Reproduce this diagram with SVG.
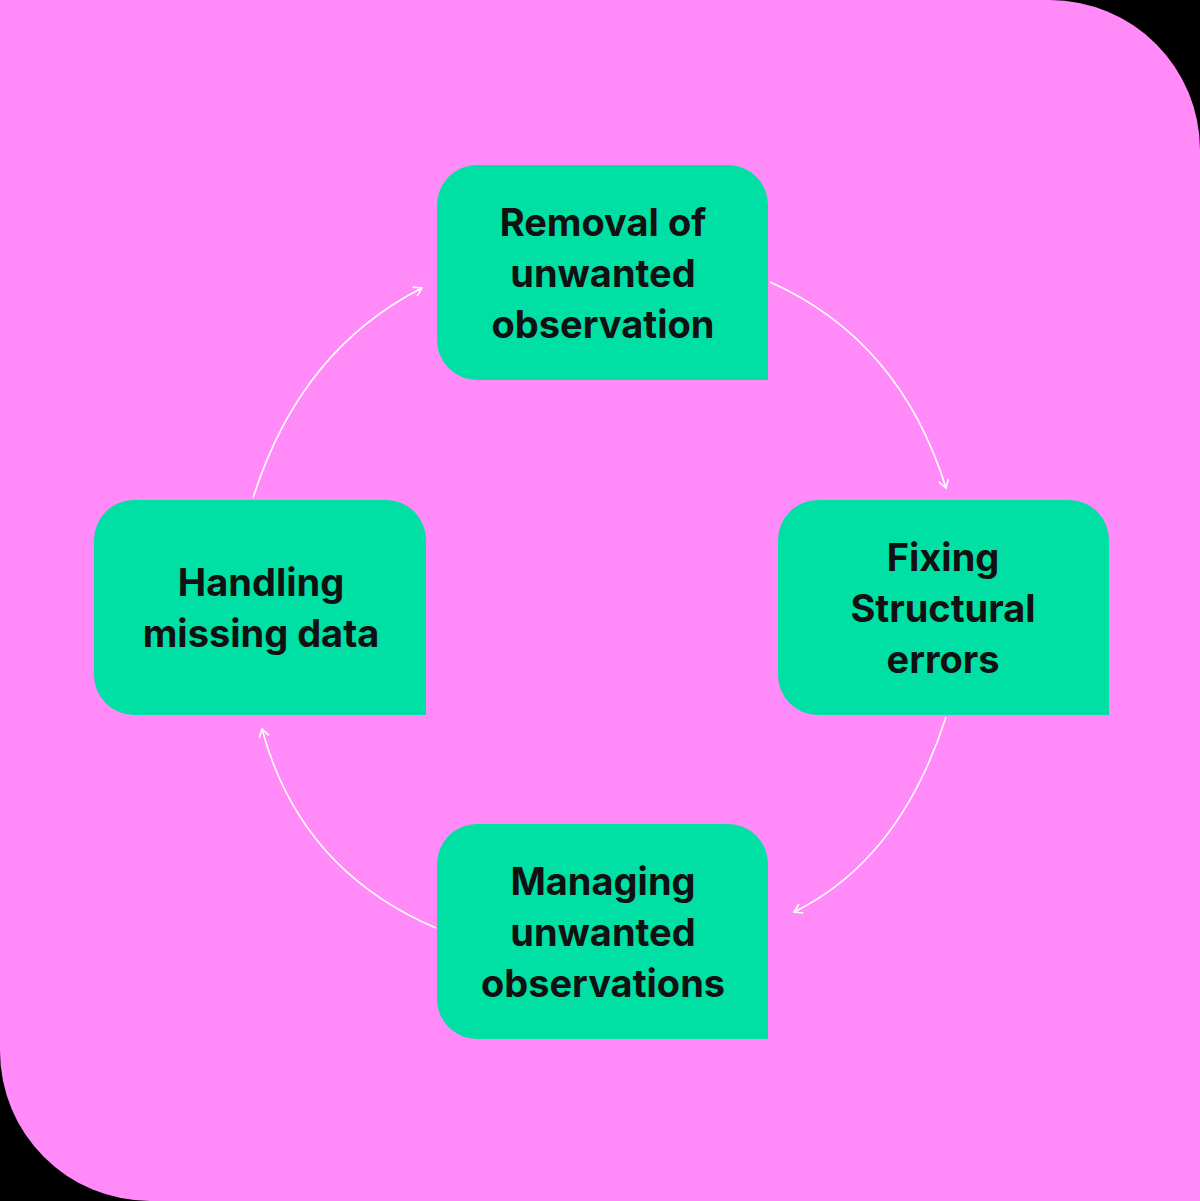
<svg xmlns="http://www.w3.org/2000/svg" width="1200" height="1201" viewBox="0 0 1200 1201">
<style>
.box{fill:#00E0A4}
.t{font-family:Inter,"Liberation Sans",sans-serif;font-weight:700;font-size:38px;fill:#111;text-anchor:middle}
.c{fill:none;stroke:#fff;stroke-width:1.6}
</style>
<defs><marker id="a" markerWidth="14" markerHeight="14" refX="10" refY="6" orient="auto" markerUnits="userSpaceOnUse"><path d="M2,1 L10,6 L2,11" fill="none" stroke="#fff" stroke-width="1.6"/></marker></defs>
<rect width="1200" height="1201" fill="#000"/>
<path d="M0,0 H1050 A150,150 0 0 1 1200,150 V1201 H150 A150,150 0 0 1 0,1051 Z" fill="#FF8AF8"/>
<g id="connectors">
<path class="c" d="M770,282 Q900,340 946,488" marker-end="url(#a)"/>
<path class="c" d="M946,717 Q900,860 794,912" marker-end="url(#a)"/>
<path class="c" d="M436,928 Q300,870 262,729" marker-end="url(#a)"/>
<path class="c" d="M253,498 Q300,350 422,288" marker-end="url(#a)"/>
</g>
<g id="n1"><path class="box" d="M477,165 H728 A40,40 0 0 1 768,205 V380 H477 A40,40 0 0 1 437,340 V205 A40,40 0 0 1 477,165 Z"/>
<text class="t" x="603" y="236">Removal of</text><text class="t" x="603" y="287">unwanted</text><text class="t" x="603" y="338">observation</text></g>
<g id="n2"><path class="box" d="M818,500 H1069 A40,40 0 0 1 1109,540 V715 H818 A40,40 0 0 1 778,675 V540 A40,40 0 0 1 818,500 Z"/>
<text class="t" x="943" y="571">Fixing</text><text class="t" x="943" y="622">Structural</text><text class="t" x="943" y="673">errors</text></g>
<g id="n3"><path class="box" d="M477,824 H728 A40,40 0 0 1 768,864 V1039 H477 A40,40 0 0 1 437,999 V864 A40,40 0 0 1 477,824 Z"/>
<text class="t" x="603" y="895">Managing</text><text class="t" x="603" y="946">unwanted</text><text class="t" x="603" y="997">observations</text></g>
<g id="n4"><path class="box" d="M134,500 H386 A40,40 0 0 1 426,540 V715 H134 A40,40 0 0 1 94,675 V540 A40,40 0 0 1 134,500 Z"/>
<text class="t" x="261" y="596">Handling</text><text class="t" x="261" y="647">missing data</text></g>
</svg>
